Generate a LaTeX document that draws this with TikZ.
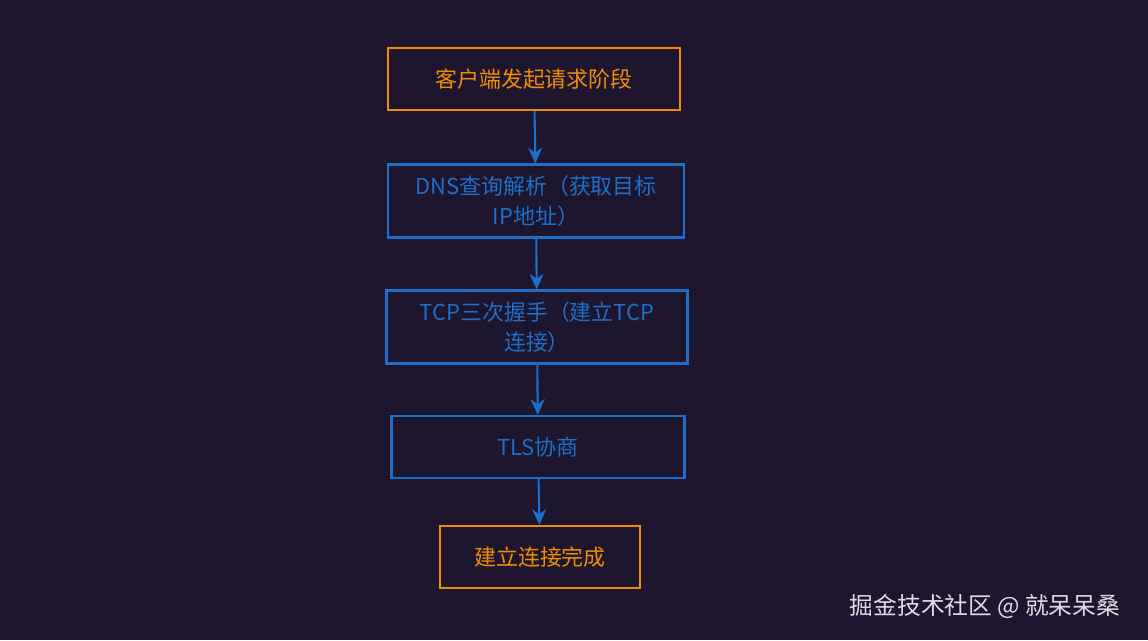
\documentclass[tikz,border=0pt]{standalone}
\usepackage{fontspec}
\setmainfont{Noto Sans CJK SC}
\usetikzlibrary{arrows.meta,positioning}

\begin{document}
\begin{tikzpicture}[x=0.02cm, y=-0.02cm, every node/.style={font=\fontsize{12.5}{17}\selectfont}]
        \definecolor{bgdark}{RGB}{30,22,46}
        \definecolor{stepor}{RGB}{240,140,0}
        \definecolor{stepbl}{RGB}{28,110,200}

        % Background
        \fill[bgdark] (0,0) rectangle (1148,640);

        % Steps
        \node[draw=stepor, line width=1.2pt, text=stepor, minimum width=292*0.02cm, minimum height=62*0.02cm] (start) at (534,79) {客户端发起请求阶段};
        \node[draw=stepbl, line width=1.2pt, text=stepbl, minimum width=296*0.02cm, minimum height=73*0.02cm, text width=270*0.02cm, align=center] (dns) at (536,201) {DNS查询解析（获取目标\\IP地址）};
        \node[draw=stepbl, line width=1.2pt, text=stepbl, minimum width=301*0.02cm, minimum height=73*0.02cm, text width=285*0.02cm, align=center] (tcp) at (537,327) {TCP三次握手（建立TCP\\连接）};
        \node[draw=stepbl, line width=1.2pt, text=stepbl, minimum width=293*0.02cm, minimum height=62*0.02cm] (tls) at (538,447) {TLS协商};
        \node[draw=stepor, line width=1.2pt, text=stepor, minimum width=200*0.02cm, minimum height=62*0.02cm] (done) at (540,557) {建立连接完成};

        % Arrows
        \draw[-{Stealth[length=9pt, width=8pt]}, stepbl, line width=1.2pt] (start) -- (dns);
        \draw[-{Stealth[length=9pt, width=8pt]}, stepbl, line width=1.2pt] (dns) -- (tcp);
        \draw[-{Stealth[length=9pt, width=8pt]}, stepbl, line width=1.2pt] (tcp) -- (tls);
        \draw[-{Stealth[length=9pt, width=8pt]}, stepbl, line width=1.2pt] (tls) -- (done);

        % Watermark
        \node[text=white!85!bgdark, font=\fontsize{13.5}{16}\selectfont] (mark) at (985,606) {掘金技术社区 @ 就呆呆桑};
    \end{tikzpicture}
\end{document}
